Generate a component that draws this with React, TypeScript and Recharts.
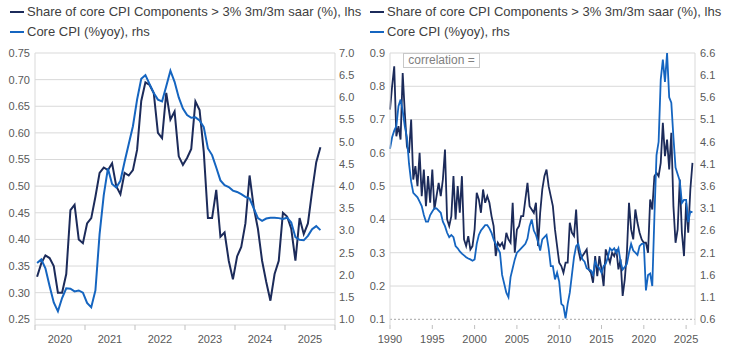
import React from 'react';
import { LineChart, Line, XAxis, YAxis, CartesianGrid, Legend, ReferenceLine } from 'recharts';

const DARK = '#1c2b5a';
const BLUE = '#1565c0';
const GRID = '#d9d9d9';
const TICK_TEXT = '#595959';
const SHARE_NAME = 'Share of core CPI Components > 3% 3m/3m saar (%), lhs';
const CORE_NAME = 'Core CPI (%yoy), rhs';
const LEGEND_ORDER = [SHARE_NAME, CORE_NAME];

// Left panel: monthly, Jan 2020 -> Sep 2025
const recentShare = [
  0.33, 0.355, 0.37, 0.365, 0.35, 0.3, 0.3, 0.335, 0.455, 0.465,
  0.4, 0.393, 0.43, 0.44, 0.48, 0.525, 0.535, 0.53, 0.543, 0.5,
  0.485, 0.525, 0.52, 0.53, 0.568, 0.66, 0.695, 0.69, 0.675, 0.6,
  0.59, 0.675, 0.625, 0.64, 0.556, 0.54, 0.553, 0.57, 0.659, 0.643,
  0.565, 0.44, 0.44, 0.493, 0.405, 0.413, 0.36, 0.325, 0.368, 0.386,
  0.43, 0.52, 0.46, 0.42, 0.36, 0.32, 0.285, 0.335, 0.36, 0.45,
  0.443, 0.42, 0.36, 0.44, 0.41, 0.43, 0.49, 0.545, 0.573,
];
const recentCore = [
  2.27, 2.35, 2.15, 1.75, 1.38, 1.18, 1.48, 1.7, 1.69, 1.63,
  1.65, 1.6, 1.37, 1.27, 1.65, 2.92, 3.8, 4.4, 4.05, 3.97,
  4.12, 4.55, 4.95, 5.35, 5.95, 6.42, 6.5, 6.3, 6.1, 5.95,
  5.91, 6.25, 6.6, 6.35, 6.0, 5.75, 5.6, 5.54, 5.55, 5.48,
  5.33, 4.85, 4.7, 4.42, 4.13, 4.02, 3.98, 3.9, 3.87, 3.82,
  3.76, 3.72, 3.5, 3.28, 3.22, 3.27, 3.29, 3.29, 3.28, 3.26,
  3.29, 3.18, 2.85, 2.79, 2.78, 2.88, 3.03, 3.1, 3.01,
];

// Right panel: quarterly, 1990 Q1 -> 2025 Q4
const longShare = [
  0.73, 0.8, 0.86, 0.65, 0.68, 0.64, 0.84, 0.72,
  0.62, 0.6, 0.7, 0.52, 0.56, 0.5, 0.6, 0.47,
  0.55, 0.44, 0.53, 0.45, 0.55, 0.43, 0.47, 0.51,
  0.47, 0.52, 0.61, 0.4, 0.38, 0.41, 0.53, 0.4,
  0.5, 0.42, 0.53, 0.34, 0.32, 0.35, 0.31, 0.32,
  0.37, 0.48, 0.46, 0.42, 0.49, 0.45, 0.47, 0.45,
  0.41, 0.38, 0.29, 0.33, 0.32, 0.33, 0.31, 0.36,
  0.34, 0.33, 0.45, 0.3, 0.37, 0.38, 0.41, 0.41,
  0.46, 0.51, 0.44, 0.43, 0.42, 0.45, 0.32, 0.42,
  0.49, 0.53, 0.55, 0.5, 0.47, 0.44, 0.37, 0.32,
  0.27, 0.26, 0.24, 0.27, 0.27, 0.39, 0.36, 0.35,
  0.43, 0.31, 0.28, 0.29, 0.3, 0.31, 0.25, 0.24,
  0.21, 0.29, 0.23, 0.29, 0.25, 0.2, 0.31, 0.29,
  0.27, 0.3, 0.29, 0.31, 0.25, 0.28, 0.17, 0.22,
  0.3, 0.45, 0.37, 0.34, 0.43, 0.39, 0.36, 0.34,
  0.33, 0.33, 0.3, 0.46, 0.43, 0.53, 0.54, 0.53,
  0.57, 0.69, 0.59, 0.64, 0.55, 0.66, 0.44, 0.33,
  0.37, 0.52, 0.36, 0.29, 0.45, 0.36, 0.49, 0.57,
];
const longCore = [
  4.44, 4.7, 4.85, 4.95, 5.4, 5.55, 5.3, 4.95,
  4.7, 4.1, 3.7, 3.45, 3.4, 3.35, 3.25, 3.15,
  2.95, 2.8, 2.8, 2.95, 3.03, 3.1, 3.1, 3.05,
  3.0, 2.8, 2.7, 2.55, 2.45, 2.5, 2.45, 2.25,
  2.2, 2.13, 2.08, 2.04, 2.0, 1.97, 1.95, 1.92,
  1.95, 2.3, 2.5, 2.6, 2.66, 2.72, 2.72, 2.65,
  2.55, 2.4, 2.3, 2.2, 2.1, 1.6, 1.4, 1.2,
  1.1, 1.55, 1.75, 1.95, 2.1, 2.15, 2.2, 2.25,
  2.3, 2.42, 2.7, 2.85, 2.6, 2.5, 2.35, 2.15,
  2.4, 2.45, 2.5, 2.2, 1.8, 1.8, 1.5, 1.65,
  1.45, 0.95, 0.9, 0.62, 0.95, 1.2, 1.6, 2.0,
  2.25, 2.3, 2.1, 1.95, 1.9, 1.75, 1.72, 1.7,
  1.6, 1.9, 1.8, 1.75, 1.65, 1.8, 1.85, 2.0,
  2.2, 2.15, 2.2, 2.1, 2.2, 1.9, 1.72, 1.78,
  1.85, 2.1, 2.3, 2.15, 2.1, 2.05, 2.25, 2.3,
  2.3, 1.25, 1.6, 1.63, 1.35, 2.9, 4.3, 4.6,
  6.0, 6.45, 5.95, 6.6, 5.6, 5.48, 4.7, 4.02,
  3.87, 3.72, 3.22, 3.29, 3.29, 2.79, 3.03, 3.01,
];

const recentYears = [2020, 2021, 2022, 2023, 2024, 2025, 2026];
const longYears = [1990, 1995, 2000, 2005, 2010, 2015, 2020, 2025];
const recentLeftTicks = [0.25, 0.3, 0.35, 0.4, 0.45, 0.5, 0.55, 0.6, 0.65, 0.7, 0.75];
const recentRightTicks = [1, 1.5, 2, 2.5, 3, 3.5, 4, 4.5, 5, 5.5, 6, 6.5, 7];
const longLeftTicks = [0.1, 0.2, 0.3, 0.4, 0.5, 0.6, 0.7, 0.8, 0.9];
const longRightTicks = [0.6, 1.1, 1.6, 2.1, 2.6, 3.1, 3.6, 4.1, 4.6, 5.1, 5.6, 6.1, 6.6];

const recentData = recentShare.map((share, i) => ({ t: 2020 + (i + 0.5) / 12, share, core: recentCore[i] }));
const longData = longShare.map((share, i) => ({ t: 1990 + i / 4, share, core: longCore[i] }));

// year boundaries get a tick mark, half-years carry the label
const recentXTicks = recentYears.flatMap((y, i) => (i < recentYears.length - 1 ? [y, y + 0.5] : [y]));

const tickStyle = { fontSize: 11, fill: TICK_TEXT };

function BandTick({ x, y, payload }: any) {
  const v = payload.value;
  if (Number.isInteger(v)) {
    return <line x1={x} x2={x} y1={y} y2={y + 5} stroke="#bfbfbf" />;
  }
  return (
    <text x={x} y={y + 18} textAnchor="middle" fontSize={11} fill={TICK_TEXT}>
      {Math.floor(v)}
    </text>
  );
}

function YearTick({ x, y, payload }: any) {
  return (
    <g>
      <line x1={x} x2={x} y1={y} y2={y + 4} stroke="#bfbfbf" />
      <text x={x} y={y + 18} textAnchor="middle" fontSize={11} fill={TICK_TEXT}>
        {payload.value}
      </text>
    </g>
  );
}

function SeriesLegend({ payload }: any) {
  const items = [...(payload || [])].sort(
    (a: any, b: any) => LEGEND_ORDER.indexOf(a.value) - LEGEND_ORDER.indexOf(b.value)
  );
  return (
    <div style={{ fontSize: 13, color: '#404040', lineHeight: '20px' }}>
      {items.map((p: any) => (
        <div key={p.value} style={{ display: 'flex', alignItems: 'center', whiteSpace: 'nowrap' }}>
          <span style={{ display: 'inline-block', width: 14, height: 2, background: p.color, marginRight: 3 }} />
          {p.value}
        </div>
      ))}
    </div>
  );
}

export default function App() {
  return (
    <div
      style={{
        position: 'absolute',
        left: 0,
        top: 0,
        width: 729,
        height: 357,
        background: '#fff',
        fontFamily: '"Liberation Sans", Arial, sans-serif',
      }}
    >
      {/* Since 2020 */}
      <div style={{ position: 'absolute', left: 0, top: 0 }}>
        <LineChart width={365} height={357} data={recentData} margin={{ top: 53, right: 0, bottom: 0, left: 0 }}>
          <CartesianGrid yAxisId="l" vertical={false} stroke={GRID} />
          <XAxis
            dataKey="t"
            type="number"
            domain={[2020, 2026]}
            ticks={recentXTicks}
            interval={0}
            height={32}
            axisLine={false}
            tickLine={false}
            tickSize={0}
            tickMargin={0}
            tick={<BandTick />}
          />
          <YAxis
            yAxisId="l"
            orientation="left"
            width={35}
            domain={[0.2393, 0.75]}
            ticks={recentLeftTicks}
            interval={0}
            tickFormatter={(v: number) => v.toFixed(2)}
            axisLine={{ stroke: GRID }}
            tickLine={false}
            tickSize={0}
            tickMargin={5}
            tick={tickStyle}
          />
          <YAxis
            yAxisId="r"
            orientation="right"
            width={30}
            domain={[0.872, 7]}
            ticks={recentRightTicks}
            interval={0}
            tickFormatter={(v: number) => v.toFixed(1)}
            axisLine={{ stroke: GRID }}
            tickLine={false}
            tickSize={0}
            tickMargin={4}
            tick={tickStyle}
          />
          <Legend
            verticalAlign="middle"
            layout="horizontal"
            wrapperStyle={{ top: 2, left: 10, width: 355 }}
            content={(props: any) => <SeriesLegend {...props} />}
          />
          <Line yAxisId="l" type="linear" dataKey="share" name={SHARE_NAME} stroke={DARK} strokeWidth={2} dot={false} isAnimationActive={false} />
          <Line yAxisId="r" type="linear" dataKey="core" name={CORE_NAME} stroke={BLUE} strokeWidth={2} dot={false} isAnimationActive={false} />
        </LineChart>
      </div>

      {/* Since 1990 */}
      <div style={{ position: 'absolute', left: 365, top: 0 }}>
        <LineChart width={364} height={357} data={longData} margin={{ top: 53, right: 0, bottom: 0, left: 0 }}>
          <CartesianGrid yAxisId="l" vertical={false} stroke={GRID} horizontalValues={longLeftTicks.slice(1)} />
          <XAxis
            dataKey="t"
            type="number"
            domain={[1990, 2026.05]}
            ticks={longYears}
            interval={0}
            height={32}
            axisLine={false}
            tickLine={false}
            tickSize={0}
            tickMargin={0}
            tick={<YearTick />}
          />
          <YAxis
            yAxisId="l"
            orientation="left"
            width={25}
            domain={[0.0829, 0.9]}
            ticks={longLeftTicks}
            interval={0}
            tickFormatter={(v: number) => v.toFixed(1)}
            axisLine={{ stroke: GRID }}
            tickLine={false}
            tickSize={0}
            tickMargin={5}
            tick={tickStyle}
          />
          <YAxis
            yAxisId="r"
            orientation="right"
            width={34}
            domain={[0.472, 6.6]}
            ticks={longRightTicks}
            interval={0}
            tickFormatter={(v: number) => v.toFixed(1)}
            axisLine={{ stroke: GRID }}
            tickLine={false}
            tickSize={0}
            tickMargin={5}
            tick={tickStyle}
          />
          <ReferenceLine yAxisId="l" y={0.1} stroke="#a6a6a6" strokeDasharray="2 2" />
          <Legend
            verticalAlign="middle"
            layout="horizontal"
            wrapperStyle={{ top: 2, left: 5, width: 359 }}
            content={(props: any) => <SeriesLegend {...props} />}
          />
          <Line yAxisId="l" type="linear" dataKey="share" name={SHARE_NAME} stroke={DARK} strokeWidth={1.8} dot={false} isAnimationActive={false} />
          <Line yAxisId="r" type="linear" dataKey="core" name={CORE_NAME} stroke={BLUE} strokeWidth={1.8} dot={false} isAnimationActive={false} />
        </LineChart>
        <div
          style={{
            position: 'absolute',
            left: 38,
            top: 53,
            width: 77,
            height: 15,
            boxSizing: 'border-box',
            border: '1px solid #c8c8c8',
            background: '#fff',
            color: '#808080',
            fontSize: 12,
            lineHeight: '13px',
            textAlign: 'center',
          }}
        >
          correlation =
        </div>
      </div>
    </div>
  );
}
